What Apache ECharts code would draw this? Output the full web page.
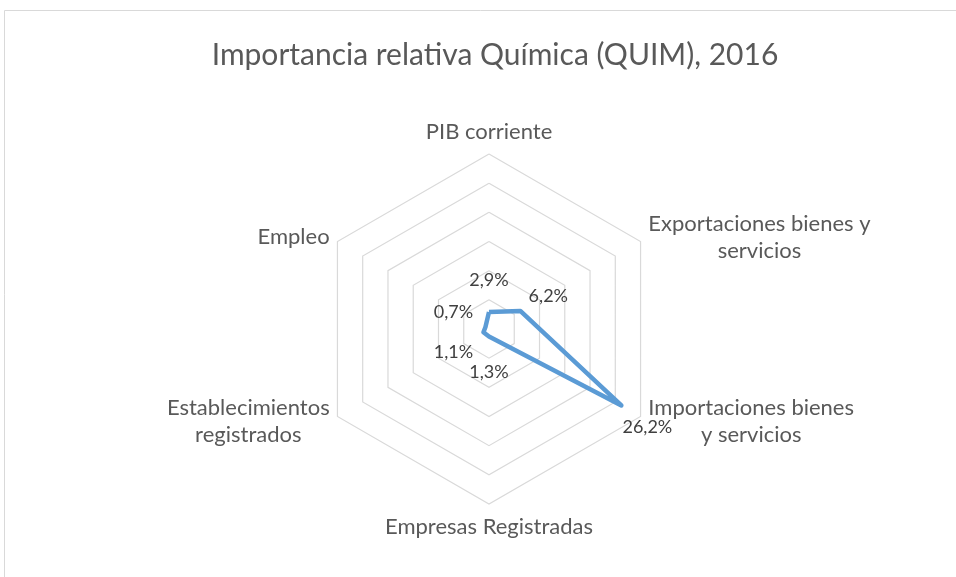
<!DOCTYPE html>
<html>
  <head>
    <meta charset="UTF-8" />
    <title>Importancia relativa Química (QUIM), 2016</title>
    <script src="https://cdn.jsdelivr.net/npm/echarts@6/dist/echarts.min.js"></script>
    <style>
      html, body { margin: 0; padding: 0; background: #fff; }
    </style>
  </head>
  <body>
    <div id="chart" style="width: 956px; height: 577px"></div>
  </body>
  <script>
    // axes, clockwise from the top as in the picture
    const categories = [
      'PIB corriente',
      'Exportaciones bienes y\nservicios',
      'Importaciones bienes\ny servicios',
      'Empresas Registradas',
      'Establecimientos\nregistrados',
      'Empleo'
    ];
    const values = [2.9, 6.2, 26.2, 1.3, 1.1, 0.7];
    const axisMax = 30;

    // label nudges (px) for each axis, same order as categories
    const labelOffsets = [[0, -32], [28, -15], [26, 22], [0, 36], [-30, 20], [-32, -15]];

    // echarts lays indicators out counterclockwise, so flip to clockwise
    const order = [0, 5, 4, 3, 2, 1];
    const fmt = v => v.toFixed(1).replace('.', ',') + '%';
    const font = 'Lato';

    let chart = echarts.init(document.getElementById('chart'));

    let labelSeries = categories.map((c, i) => ({
      type: 'radar',
      name: 'lbl' + i,
      z: 3,
      silent: true,
      symbol: 'circle',
      symbolSize: 1,
      itemStyle: { color: 'rgba(0,0,0,0)' },
      lineStyle: { opacity: 0 },
      label: {
        show: true,
        position: 'inside',
        offset: labelOffsets[i],
        color: '#404040',
        fontFamily: font,
        fontSize: 18,
        formatter: p => (p.value === values[i] ? fmt(p.value) : '')
      },
      data: [{ value: order.map(k => values[k]) }]
    }));

    chart.setOption({
      animation: false,
      title: {
        text: 'Importancia relativa Química (QUIM), 2016',
        left: 490,
        textAlign: 'center',
        top: 35,
        textStyle: { color: '#595959', fontFamily: font, fontSize: 30, fontWeight: 'normal' }
      },
      graphic: [{
        type: 'rect',
        shape: { x: 4.5, y: 10.5, width: 960, height: 580 },
        style: { fill: 'none', stroke: '#d9d9d9', lineWidth: 1 },
        silent: true
      }],
      radar: {
        center: [489, 329],
        radius: 175,
        splitNumber: 6,
        nameGap: 9,
        axisName: {
          color: '#595959',
          fontFamily: font,
          fontSize: 22,
          formatter: n => n.split('\n').map(s => '{c|' + s + '}').join('\n'),
          rich: { c: { align: 'center', color: '#595959', fontFamily: font, fontSize: 22, lineHeight: 27 } }
        },
        axisLine: { show: false },
        axisTick: { show: false },
        axisLabel: { show: false },
        splitArea: { show: false },
        splitLine: { lineStyle: { color: '#d9d9d9', width: 1.2 } },
        indicator: order.map(k => ({ name: categories[k], min: 0, max: axisMax }))
      },
      series: [{
        type: 'radar',
        z: 2,
        symbol: 'none',
        lineStyle: { color: '#5b9bd5', width: 4.5 },
        data: [{ value: order.map(k => values[k]) }]
      }].concat(labelSeries)
    });
  </script>
</html>
